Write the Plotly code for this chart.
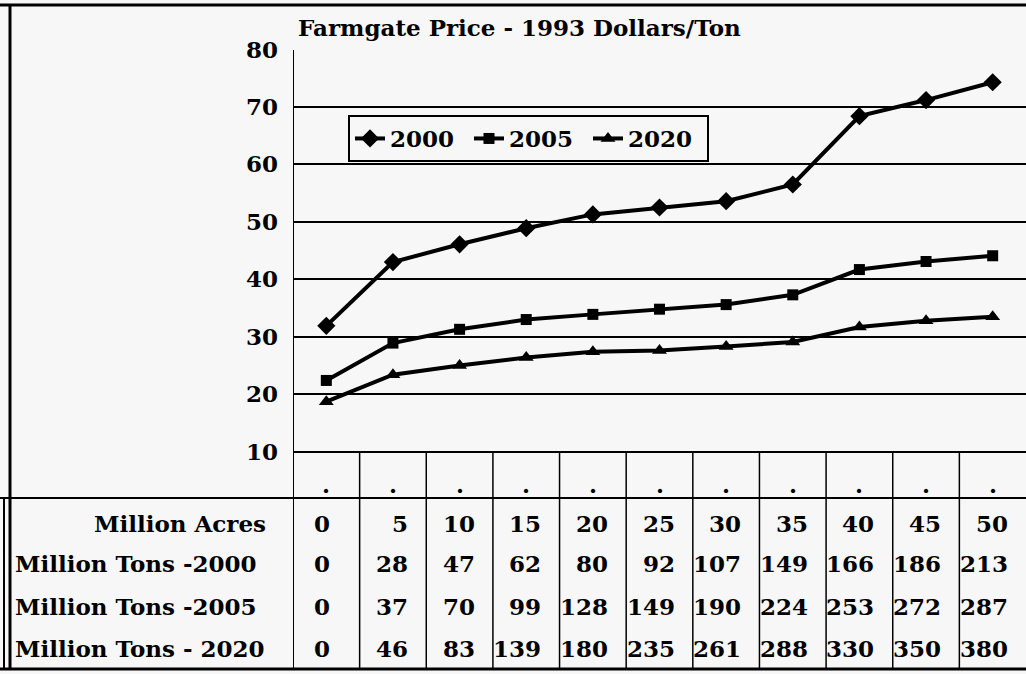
import plotly.graph_objects as go

# ---- data ----
acres = [0, 5, 10, 15, 20, 25, 30, 35, 40, 45, 50]
price_2000 = [31.9, 43.0, 46.1, 48.9, 51.3, 52.5, 53.6, 56.5, 68.4, 71.2, 74.3]
price_2005 = [22.4, 28.9, 31.3, 33.0, 33.9, 34.8, 35.6, 37.3, 41.7, 43.1, 44.1]
price_2020 = [18.7, 23.4, 25.0, 26.4, 27.4, 27.6, 28.3, 29.1, 31.7, 32.8, 33.5]
tons_2000 = [0, 28, 47, 62, 80, 92, 107, 149, 166, 186, 213]
tons_2005 = [0, 37, 70, 99, 128, 149, 190, 224, 253, 272, 287]
tons_2020 = [0, 46, 83, 139, 180, 235, 261, 288, 330, 350, 380]
row_labels = ["Million Acres", "Million Tons -2000", "Million Tons -2005", "Million Tons - 2020"]
y_ticks = [10, 20, 30, 40, 50, 60, 70, 80]
title_text = "Farmgate Price - 1993 Dollars/Ton"

W, H = 1026, 674
FONT = "DejaVu Serif"
BG = "#f7f7f7"
FS = 23


def px(x):
    return x / W


def py(y):
    return 1 - y / H


fig = go.Figure()
series = [("2000", price_2000, "diamond", 14),
          ("2005", price_2005, "square", 11),
          ("2020", price_2020, "triangle-up", 13)]
for name, vals, sym, sz in series:
    fig.add_trace(go.Scatter(
        x=acres, y=vals, name=name, mode="lines+markers",
        line=dict(color="black", width=4),
        marker=dict(symbol=sym, size=sz, color="black"),
    ))

shapes = []
# frame lines
shapes.append(dict(type="line", xref="paper", yref="paper", x0=0, x1=1, y0=py(5), y1=py(5),
                   line=dict(color="black", width=3)))
shapes.append(dict(type="line", xref="paper", yref="paper", x0=px(10), x1=px(10), y0=py(5), y1=py(670),
                   line=dict(color="black", width=3)))
shapes.append(dict(type="line", xref="paper", yref="paper", x0=px(4), x1=px(4), y0=py(498), y1=py(670),
                   line=dict(color="black", width=2)))
shapes.append(dict(type="line", xref="paper", yref="paper", x0=0, x1=1, y0=py(498), y1=py(498),
                   line=dict(color="black", width=2)))
shapes.append(dict(type="line", xref="paper", yref="paper", x0=0, x1=1, y0=py(669), y1=py(669),
                   line=dict(color="black", width=3)))
# plot left edge extended through table
shapes.append(dict(type="line", xref="x", yref="paper", x0=-2.5, x1=-2.5, y0=py(669), y1=py(50),
                   line=dict(color="black", width=2)))
# column separators
for a in acres[:-1]:
    shapes.append(dict(type="line", xref="x", yref="paper", x0=a + 2.5, x1=a + 2.5,
                       y0=py(669), y1=py(451), line=dict(color="black", width=1.5)))

annotations = []
row_y = [523, 563, 606, 648]
label_x = [268, 13, 13, 13]
label_anchor = ["right", "left", "left", "left"]
for lab, yy, xx, anc in zip(row_labels, row_y, label_x, label_anchor):
    annotations.append(dict(text=lab, xref="paper", yref="paper", x=px(xx), y=py(yy),
                            xanchor=anc, yanchor="middle", showarrow=False,
                            font=dict(family=FONT, size=FS, color="black", weight="bold")))
rows = [acres, tons_2000, tons_2005, tons_2020]
for vals, yy in zip(rows, row_y):
    for i, (a, v) in enumerate(zip(acres, vals)):
        annotations.append(dict(text=str(v), xref="x", yref="paper", x=a, y=py(yy),
                                xanchor="right" if i > 0 else "center", xshift=17 if i > 0 else -4,
                                yanchor="middle", showarrow=False,
                                font=dict(family=FONT, size=FS, color="black", weight="bold")))
for a in acres:
    annotations.append(dict(text=".", xref="x", yref="paper", x=a, y=py(484),
                            xanchor="center", yanchor="middle", showarrow=False,
                            font=dict(family=FONT, size=FS, color="black", weight="bold")))

fig.update_layout(
    width=W, height=H, autosize=False,
    margin=dict(l=0, r=0, t=0, b=0, pad=0, autoexpand=False),
    paper_bgcolor=BG, plot_bgcolor=BG,
    font=dict(family=FONT, size=FS, color="black", weight="bold"),
    title=dict(text=title_text, x=px(298), xanchor="left", y=py(28), yanchor="middle",
               automargin=False,
               font=dict(family=FONT, size=FS, color="black", weight="bold")),
    xaxis=dict(domain=[px(293), 1], range=[-2.5, 52.5], visible=False, automargin=False),
    yaxis=dict(domain=[py(498), py(49.5)], range=[1.94, 80], tickvals=y_ticks,
               showgrid=True, gridcolor="black", gridwidth=2, zeroline=False,
               showline=False, ticks="", ticklabelstandoff=14, automargin=False,
               tickfont=dict(family=FONT, size=FS, color="black", weight="bold")),
    legend=dict(orientation="h", x=px(348), xanchor="left", y=py(115), yanchor="top",
                bordercolor="black", borderwidth=2, bgcolor=BG,
                font=dict(family=FONT, size=FS, color="black", weight="bold"),
                itemwidth=30, tracegroupgap=0, entrywidth=74, entrywidthmode="pixels"),
    shapes=shapes,
    annotations=annotations,
    showlegend=True,
)

fig.write_html("out.html", config={"displayModeBar": False},
               post_script="document.body.style.margin='0';document.body.style.overflow='hidden';")
